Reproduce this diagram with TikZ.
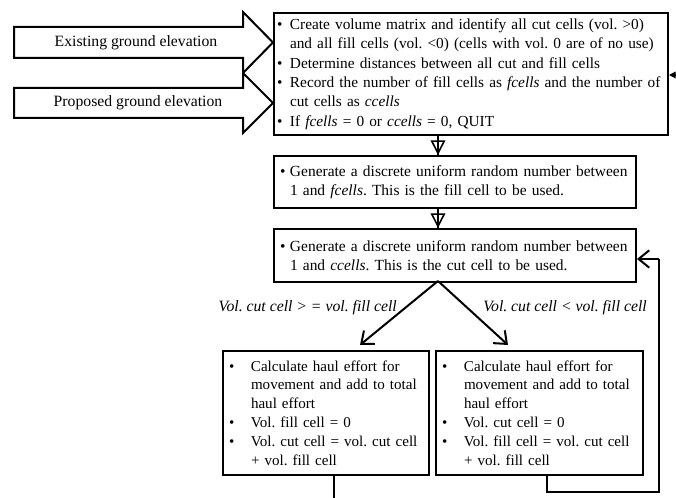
\documentclass[tikz,border=0pt]{standalone}
\usepackage{fontspec}
\setmainfont{Liberation Serif}
\usetikzlibrary{arrows.meta}
\frenchspacing
\newcommand{\li}[2]{\mbox{\makebox[#1][l]{•}#2}}
\newcommand{\lc}[2]{\mbox{\hspace*{#1}#2}}
\begin{document}
\begin{tikzpicture}[x=0.75pt,y=-0.75pt,
  box/.style={draw, line width=1.5pt, anchor=north west, align=left, inner ysep=0pt},
  bigarrow/.style={draw, line width=1.5pt, fill=white, line join=miter},
  conn/.style={line width=1.5pt},
  barb/.style={line width=1.5pt, -{Straight Barb[length=8pt,width=13pt,line width=1.5pt]}},
  tri/.style={line width=1.2pt, -{Triangle[open,length=11pt,width=11pt,line width=1.2pt]}},
  lbl/.style={font=\fontsize{11.8}{13}\selectfont\itshape, inner sep=0pt},
  atext/.style={font=\fontsize{11.8}{13}\selectfont, inner sep=0pt}
]
\useasboundingbox (0,0) rectangle (676,498);

% input arrows
\path[bigarrow] (14,27) -- (243,27) -- (243,12) -- (273,42.5) -- (243,73) -- (243,58) -- (14,58) -- cycle;
\path[bigarrow] (14,88) -- (243,88) -- (243,73) -- (273,103) -- (243,133) -- (243,118) -- (14,118) -- cycle;
\node[atext] (ex) at (136,43) {Existing ground elevation};
\node[atext] (pr) at (138,103) {Proposed ground elevation};

% box 1
\node[box, minimum width=295.5pt, minimum height=91.5pt, inner xsep=2.25pt, text width=291pt,
      font=\fontsize{11.5}{14.55}\selectfont] (b1) at (273,12) {%
\li{9.75pt}{Create volume matrix and identify all cut cells (vol. >0)}\\
\lc{9.75pt}{and all fill cells (vol. <0) (cells with vol. 0 are of no use)}\\
\li{9.75pt}{Determine distances between all cut and fill cells}\\
\li{9.75pt}{Record the number of fill cells as \textit{fcells} and the number of}\\
\lc{9.75pt}{cut cells as \textit{ccells}}\\
\li{9.75pt}{If \textit{fcells} = 0 or \textit{ccells} = 0, QUIT}};

% box 2
\node[box, minimum width=271.5pt, minimum height=39pt, inner xsep=4.5pt, text width=262.5pt,
      font=\fontsize{11.6}{14.55}\selectfont] (b2) at (273,155) {%
\li{7.5pt}{Generate a discrete uniform random number between}\\
\lc{7.5pt}{1 and \textit{fcells}. This is the fill cell to be used.}};

% box 3
\node[box, minimum width=271.5pt, minimum height=39.75pt, inner xsep=4.5pt, text width=262.5pt,
      font=\fontsize{11.6}{14.55}\selectfont] (b3) at (273,228) {%
\li{7.5pt}{Generate a discrete uniform random number between}\\
\lc{7.5pt}{1 and \textit{ccells}. This is the cut cell to be used.}};

% box 4
\node[box, minimum width=154.5pt, minimum height=93pt, inner xsep=4.5pt, text width=145.5pt,
      font=\fontsize{11.3}{14.1}\selectfont] (b4) at (222,350) {%
\li{16.5pt}{Calculate haul effort for}\\
\lc{16.5pt}{movement and add to total}\\
\lc{16.5pt}{haul effort}\\
\li{16.5pt}{Vol. fill cell = 0}\\
\li{16.5pt}{Vol. cut cell = vol. cut cell}\\
\lc{16.5pt}{+ vol. fill cell}};

% box 5
\node[box, minimum width=155.25pt, minimum height=93pt, inner xsep=4.5pt, text width=146.25pt,
      font=\fontsize{11.3}{14.1}\selectfont] (b5) at (435,350) {%
\li{16.5pt}{Calculate haul effort for}\\
\lc{16.5pt}{movement and add to total}\\
\lc{16.5pt}{haul effort}\\
\li{16.5pt}{Vol. cut cell = 0}\\
\li{16.5pt}{Vol. fill cell = vol. cut cell}\\
\lc{16.5pt}{+ vol. fill cell}};

% coordinates
\coordinate (ax) at (438,0);
\coordinate (split) at (438,281);
\coordinate (tl) at (360,345);
\coordinate (tr) at (508,345);
\coordinate (d4) at (334,498);
\coordinate (r1) at (547,492);
\coordinate (r2) at (659,492);
\coordinate (r3) at (659,259);
\coordinate (re) at (676,75);

% vertical open-triangle connectors
\draw[conn, line width=1.2pt] (b1.south -| ax) -- (b2.north -| ax);
\draw[tri] (b1.south -| ax) -- (b2.north -| ax);
\draw[conn, line width=1.2pt] (b2.south -| ax) -- (b3.north -| ax);
\draw[tri] (b2.south -| ax) -- (b3.north -| ax);

% split
\draw[barb] (split) -- (tl);
\draw[barb] (split) -- (tr);
\node[lbl, anchor=east] (lL) at (397,308) {Vol. cut cell > = vol. fill cell};
\node[lbl, anchor=west] (lR) at (483,308) {Vol. cut cell < vol. fill cell};

% outputs
\draw[conn] (b4.south -| d4) -- (d4);
\draw[conn] (b5.south -| r1) -- (r1) -- (r2) -- (r3);
\draw[barb] (r3) -- (b3.east |- r3);

% incoming arrow at right edge
\draw[line width=1pt, -{Triangle[length=5pt,width=5pt]}] (re) -- (b1.east |- re);
\end{tikzpicture}
\end{document}
